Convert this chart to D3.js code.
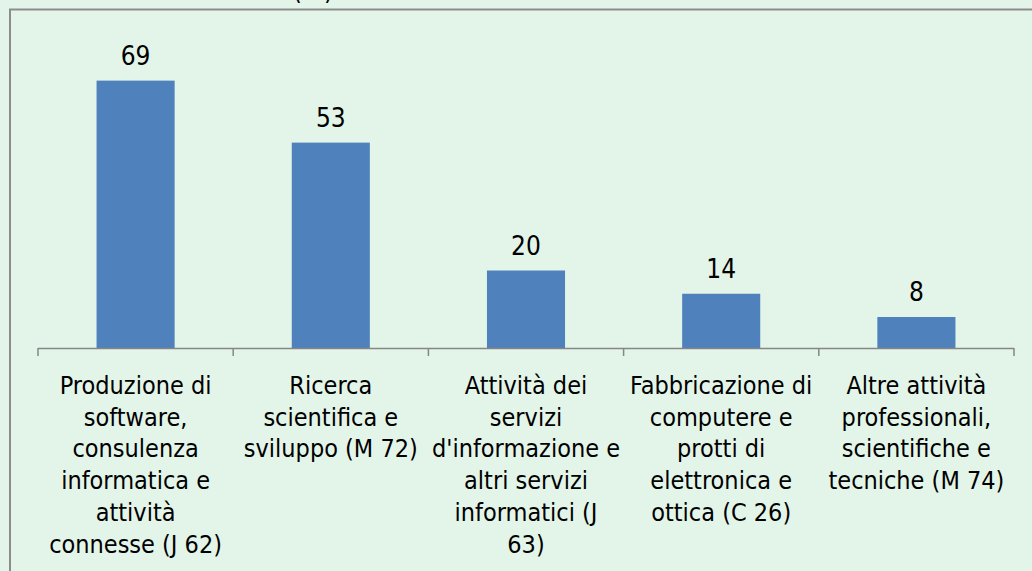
<!DOCTYPE html>
<html>
<head>
<meta charset="utf-8">
<script src="https://cdn.jsdelivr.net/npm/d3@7"></script>
<style>
  html, body { margin: 0; padding: 0; background: #e3f5e9; overflow: hidden; }
  svg { display: block; }
  text { font-family: "DejaVu Sans Condensed", "DejaVu Sans", sans-serif; fill: #000; }
</style>
</head>
<body>
<div id="chart"></div>
<script>
var w = 1032;
var h = 571;

// categories (codici ATECO)
var categories = ['J 62', 'M 72', 'J 63', 'C 26', 'M 74'];

// percentuali
var values = [69, 53, 20, 14, 8];

// etichette asse x, una riga per elemento
var tickLabels = [
  ['Produzione di', 'software,', 'consulenza', 'informatica e', 'attività', 'connesse (J 62)'],
  ['Ricerca', 'scientifica e', 'sviluppo (M 72)'],
  ['Attività dei', 'servizi', "d'informazione e", 'altri servizi', 'informatici (J', '63)'],
  ['Fabbricazione di', 'computere e', 'protti di', 'elettronica e', 'ottica (C 26)'],
  ['Altre attività', 'professionali,', 'scientifiche e', 'tecniche (M 74)']
];

var xScale = d3.scaleBand()
  .domain(categories)
  .range([38, 1014])
  .padding(0);

var yScale = d3.scaleLinear()
  .domain([0, 80])
  .range([348, 38]);

var svg = d3.select('#chart')
  .append('svg')
  .attr('width', w)
  .attr('height', h);

// background + cornice
svg.append('rect')
  .attr('width', w).attr('height', h)
  .attr('fill', '#e3f5e9');

// titolo tagliato in alto
svg.append('text')
  .attr('x', 313)
  .attr('y', -1.5)
  .attr('text-anchor', 'middle')
  .style('font-size', '26px')
  .text('(%)');

svg.append('rect')
  .attr('x', 10).attr('y', 9.5)
  .attr('width', w + 20).attr('height', h + 20)
  .attr('fill', 'none')
  .attr('stroke', '#8c8c8c')
  .attr('stroke-width', 2);

var barW = xScale.bandwidth() * 0.4;

// bars
svg.selectAll('rect.bar')
  .data(values)
  .enter()
  .append('rect')
  .attr('class', 'bar')
  .attr('x', function(d, i) { return xScale(categories[i]) + (xScale.bandwidth() - barW) / 2; })
  .attr('y', function(d) { return yScale(d); })
  .attr('width', barW)
  .attr('height', function(d) { return yScale(0) - yScale(d); })
  .attr('fill', '#4f81bd');

// valori sopra le barre
svg.selectAll('text.val')
  .data(values)
  .enter()
  .append('text')
  .attr('class', 'val')
  .attr('x', function(d, i) { return xScale(categories[i]) + xScale.bandwidth() / 2; })
  .attr('y', function(d) { return yScale(d) - 16; })
  .attr('text-anchor', 'middle')
  .style('font-size', '26px')
  .text(function(d) { return d; });

// x axis: line + ticks at band edges
var xAxis = svg.append('g');
xAxis.append('line')
  .attr('x1', 38).attr('x2', 1014)
  .attr('y1', 348.5).attr('y2', 348.5)
  .attr('stroke', '#868686')
  .attr('stroke-width', 1.5);

var edges = categories.map(function(c) { return xScale(c); }).concat([xScale.range()[1]]);
xAxis.selectAll('line.tick')
  .data(edges)
  .enter()
  .append('line')
  .attr('class', 'tick')
  .attr('x1', function(d) { return d; })
  .attr('x2', function(d) { return d; })
  .attr('y1', 348).attr('y2', 356)
  .attr('stroke', '#868686')
  .attr('stroke-width', 1.5);

// etichette categorie
var lbl = svg.selectAll('text.lbl')
  .data(tickLabels)
  .enter()
  .append('text')
  .attr('class', 'lbl')
  .attr('text-anchor', 'middle')
  .style('font-size', '25px');

lbl.selectAll('tspan')
  .data(function(d, i) { return d.map(function(s) { return { s: s, i: i }; }); })
  .enter()
  .append('tspan')
  .attr('x', function(d) { return xScale(categories[d.i]) + xScale.bandwidth() / 2; })
  .attr('y', function(d, j) { return 394 + j * 31.7; })
  .text(function(d) { return d.s; });
</script>
</body>
</html>
